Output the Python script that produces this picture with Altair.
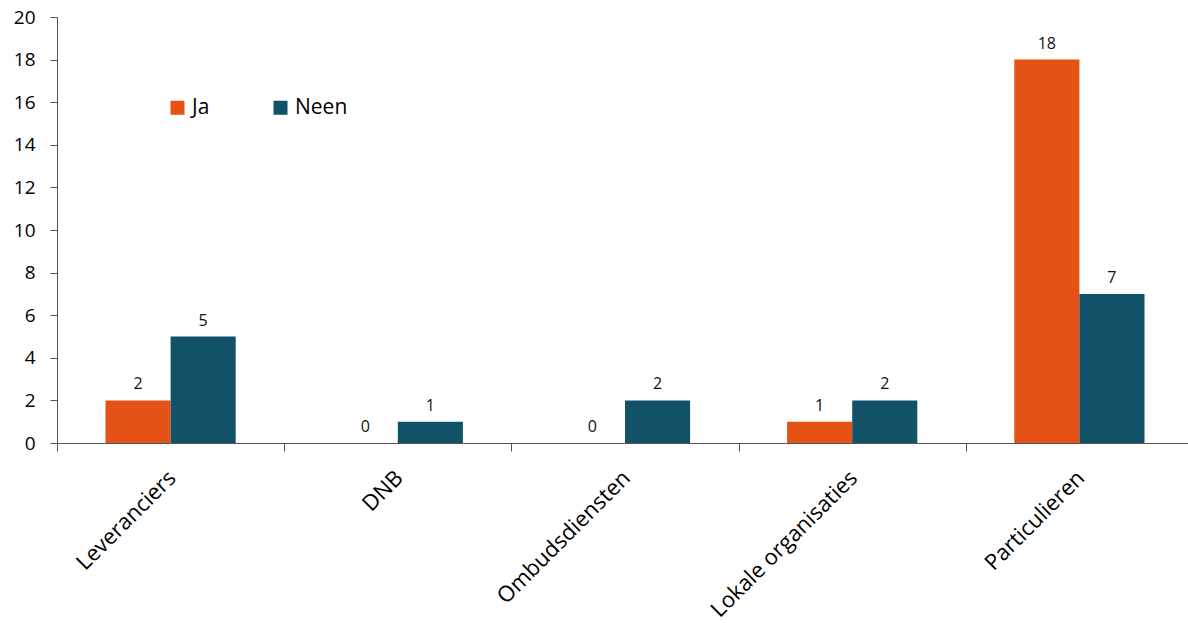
import altair as alt
import pandas as pd

categories = ["Leveranciers", "DNB", "Ombudsdiensten", "Lokale organisaties", "Particulieren"]
ja = [2, 0, 0, 1, 18]
neen = [5, 1, 2, 2, 7]
series = ["Ja", "Neen"]
colors = ["#E55215", "#115268"]

rows = []
for c, a, b in zip(categories, ja, neen):
    rows.append({"cat": c, "serie": "Ja", "val": a})
    rows.append({"cat": c, "serie": "Neen", "val": b})
df = pd.DataFrame(rows)

FONT = "Open Sans"

x = alt.X("cat:N", sort=categories, title=None,
          scale=alt.Scale(paddingInner=0, paddingOuter=0, range=[0, 1136]),
          axis=alt.Axis(labelAngle=-45, labelFontSize=22, labelFont=FONT, labelColor="#000",
                        tickBand="extent", tickSize=8, tickColor="#555", domainColor="#555",
                        labelPadding=16, labelOffset=-6, labelLimit=400))
xo = alt.XOffset("serie:N", sort=series, scale=alt.Scale(paddingOuter=0.745, paddingInner=0))

bars = alt.Chart(df).mark_bar().encode(
    x=x,
    xOffset=xo,
    y=alt.Y("val:Q", title=None,
            scale=alt.Scale(domain=[0, 20]),
            axis=alt.Axis(values=list(range(0, 21, 2)), labelFontSize=19, labelFont=FONT,
                          labelColor="#000", tickSize=7, tickColor="#555", domainColor="#555",
                          grid=False, labelPadding=15)),
    color=alt.Color("serie:N", sort=series,
                    scale=alt.Scale(domain=series, range=colors),
                    legend=alt.Legend(title=None, orient="none", direction="horizontal",
                                      legendX=110, legendY=80, symbolType="square",
                                      symbolSize=196, symbolStrokeWidth=0, labelFontSize=21,
                                      labelFont=FONT, labelColor="#000", columnPadding=60,
                                      symbolOffset=0, labelOffset=4)),
)

labels = alt.Chart(df).mark_text(fontSize=16, font=FONT, color="#111", dy=-8, baseline="bottom").encode(
    x=alt.X("cat:N", sort=categories),
    xOffset=xo,
    y=alt.Y("val:Q"),
    text="val:Q",
)

chart = (bars + labels).properties(
    width=1131, height=426,
    background="white",
    autosize=alt.AutoSizeParams(type="none"),
    padding={"left": 57, "top": 17, "right": 0, "bottom": 180},
).configure_view(strokeWidth=0, stroke="transparent").configure_axis(grid=False)

chart.save("out.html", embed_options={"renderer": "svg", "actions": False})
